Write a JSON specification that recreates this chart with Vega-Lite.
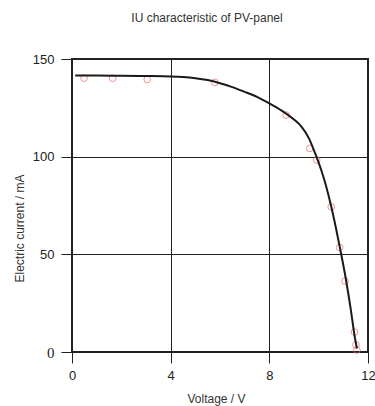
{
  "$schema": "https://vega.github.io/schema/vega-lite/v6.json",
  "width": 296,
  "height": 293,
  "autosize": {"type": "none"},
  "padding": {"left": 72, "top": 59, "right": 7, "bottom": 54},
  "background": "white",
  "config": {
    "font": "Liberation Sans",
    "view": {"stroke": "#222222", "strokeWidth": 2},
    "axis": {
      "grid": true,
      "gridColor": "#222222",
      "gridOpacity": 1,
      "gridWidth": 1,
      "domain": false,
      "tickColor": "#222222",
      "tickWidth": 1,
      "tickSize": 11,
      "labelFlush": false,
      "labelFontSize": 13,
      "labelColor": "#222222",
      "titleFontSize": 12,
      "titleFontWeight": "normal",
      "titleColor": "#333333"
    }
  },
  "title": {
    "text": "IU characteristic of PV-panel",
    "fontSize": 12,
    "fontWeight": "normal",
    "color": "#333333",
    "dx": -13,
    "offset": 28
  },
  "datasets": {
    "measured": [
      {"V": 0.49, "I": 140.2},
      {"V": 1.65, "I": 140.2},
      {"V": 3.05, "I": 139.5},
      {"V": 5.79, "I": 138.0},
      {"V": 8.68, "I": 121.3},
      {"V": 9.64, "I": 104.2},
      {"V": 9.92, "I": 98.3},
      {"V": 10.51, "I": 74.3},
      {"V": 10.85, "I": 53.5},
      {"V": 11.07, "I": 36.3},
      {"V": 11.45, "I": 10.2},
      {"V": 11.51, "I": 3.7},
      {"V": 11.55, "I": 1.0}
    ],
    "fit": [
      {"V": 0.13, "I": 141.5},
      {"V": 1.0, "I": 141.5},
      {"V": 2.0, "I": 141.4},
      {"V": 3.0, "I": 141.3},
      {"V": 4.0, "I": 141.1},
      {"V": 4.5, "I": 140.8},
      {"V": 5.0, "I": 140.2},
      {"V": 5.5, "I": 139.2},
      {"V": 6.0, "I": 137.6},
      {"V": 6.5, "I": 135.6},
      {"V": 7.0, "I": 133.2},
      {"V": 7.5, "I": 130.6},
      {"V": 8.0, "I": 127.3},
      {"V": 8.5, "I": 123.6},
      {"V": 9.0, "I": 119.0},
      {"V": 9.3, "I": 115.4},
      {"V": 9.6, "I": 109.5},
      {"V": 9.9, "I": 100.3},
      {"V": 10.1, "I": 93.3},
      {"V": 10.3, "I": 85.0},
      {"V": 10.5, "I": 75.0},
      {"V": 10.7, "I": 63.5},
      {"V": 10.9, "I": 51.0},
      {"V": 11.1, "I": 37.5},
      {"V": 11.3, "I": 22.0},
      {"V": 11.46, "I": 8.0},
      {"V": 11.55, "I": 1.8}
    ]
  },
  "layer": [
    {
      "data": {"name": "measured"},
      "mark": {"type": "point", "shape": "circle", "filled": false, "color": "#f07070", "strokeWidth": 1, "opacity": 0.75, "size": 45},
      "encoding": {
        "x": {
          "field": "V", "type": "quantitative",
          "scale": {"domain": [0, 12], "nice": false},
          "axis": {"values": [0, 4, 8, 12], "title": "Voltage / V", "titlePadding": 11, "labelPadding": 6, "titleX": 144}
        },
        "y": {
          "field": "I", "type": "quantitative",
          "scale": {"domain": [0, 150], "nice": false},
          "axis": {
            "values": [0, 50, 100, 150],
            "title": "Electric current / mA",
            "titleX": -53,
            "titleY": 169,
            "titleAlign": "center",
            "titleBaseline": "middle",
            "titleAngle": -90,
            "labelPadding": 7,
            "labelFont": {"condition": {"test": "datum.value == 0", "value": "Liberation Serif"}, "value": "Liberation Sans"},
            "labelFontSize": {"condition": {"test": "datum.value == 0", "value": 15}, "value": 13}
          }
        }
      }
    },
    {
      "data": {"name": "fit"},
      "mark": {"type": "line", "color": "#1a1a1a", "strokeWidth": 2, "interpolate": "monotone"},
      "encoding": {
        "x": {"field": "V", "type": "quantitative"},
        "y": {"field": "I", "type": "quantitative"}
      }
    }
  ]
}
